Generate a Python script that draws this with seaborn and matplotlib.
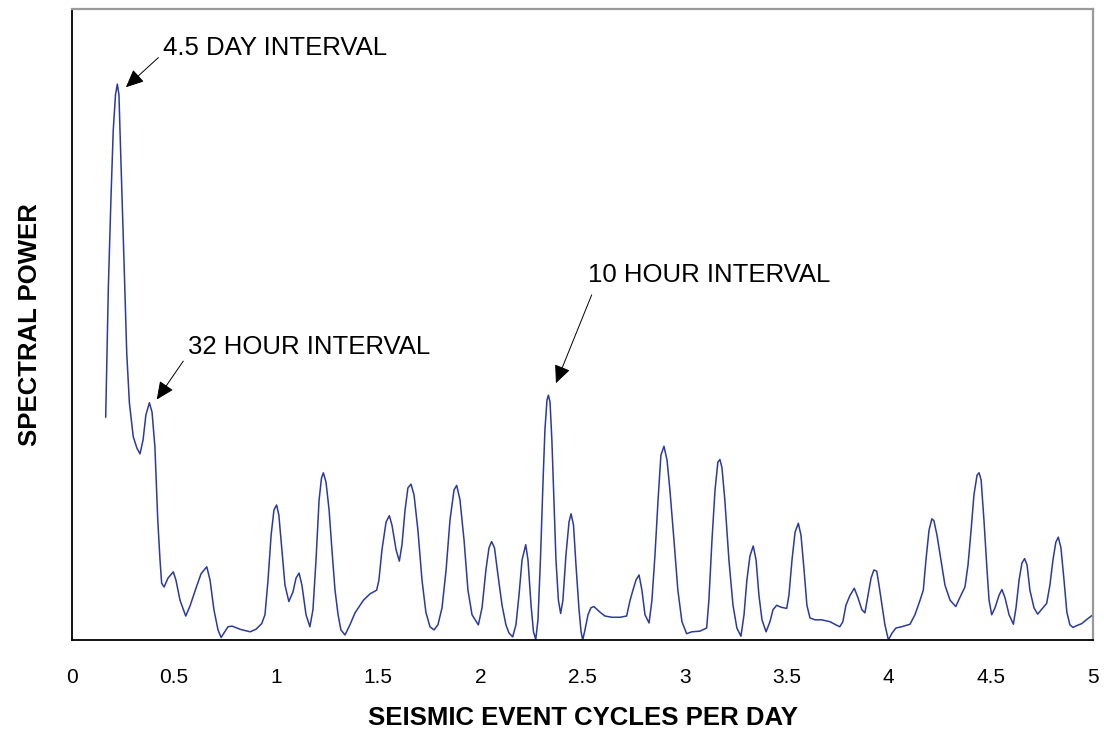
import numpy as np
import pandas as pd
import matplotlib
matplotlib.use("Agg")
import matplotlib.pyplot as plt
import seaborn as sns

# Spectral power of seismic event rate versus frequency (cycles per day)
cycles_per_day = [
    0.165, 0.178, 0.191, 0.202, 0.213, 0.222, 0.230, 0.235, 0.246, 0.256,
    0.268, 0.281, 0.300, 0.318, 0.333, 0.348, 0.362, 0.379, 0.392, 0.406,
    0.420, 0.431, 0.439, 0.451, 0.470, 0.496, 0.509, 0.529, 0.557, 0.578,
    0.607, 0.632, 0.660, 0.676, 0.695, 0.715, 0.730, 0.744, 0.764, 0.784,
    0.823, 0.872, 0.901, 0.929, 0.945, 0.960, 0.975, 0.989, 1.002, 1.013,
    1.028, 1.043, 1.062, 1.082, 1.097, 1.112, 1.126, 1.146, 1.165, 1.180,
    1.195, 1.210, 1.222, 1.231, 1.244, 1.259, 1.273, 1.288, 1.303, 1.317,
    1.337, 1.361, 1.386, 1.427, 1.459, 1.492, 1.503, 1.518, 1.538, 1.554,
    1.567, 1.587, 1.603, 1.616, 1.631, 1.645, 1.660, 1.675, 1.694, 1.714,
    1.733, 1.753, 1.773, 1.792, 1.812, 1.832, 1.851, 1.871, 1.884, 1.900,
    1.920, 1.939, 1.959, 1.990, 2.008, 2.027, 2.042, 2.055, 2.069, 2.086,
    2.106, 2.125, 2.140, 2.158, 2.174, 2.189, 2.204, 2.222, 2.233, 2.248,
    2.260, 2.271, 2.282, 2.294, 2.307, 2.316, 2.326, 2.333, 2.341, 2.350,
    2.360, 2.370, 2.382, 2.393, 2.404, 2.419, 2.434, 2.444, 2.456, 2.468,
    2.483, 2.493, 2.501, 2.512, 2.527, 2.541, 2.556, 2.586, 2.610, 2.644,
    2.684, 2.716, 2.733, 2.747, 2.762, 2.777, 2.791, 2.806, 2.826, 2.840,
    2.855, 2.870, 2.884, 2.899, 2.914, 2.928, 2.948, 2.967, 2.987, 3.010,
    3.036, 3.075, 3.108, 3.119, 3.134, 3.149, 3.163, 3.173, 3.183, 3.197,
    3.217, 3.237, 3.256, 3.276, 3.291, 3.305, 3.320, 3.336, 3.350, 3.364,
    3.379, 3.399, 3.418, 3.433, 3.451, 3.472, 3.500, 3.511, 3.526, 3.541,
    3.557, 3.570, 3.585, 3.599, 3.614, 3.638, 3.671, 3.712, 3.741, 3.760,
    3.775, 3.790, 3.809, 3.831, 3.849, 3.868, 3.883, 3.898, 3.913, 3.927,
    3.941, 3.952, 3.967, 3.981, 3.998, 4.016, 4.035, 4.063, 4.104, 4.128,
    4.153, 4.169, 4.182, 4.197, 4.211, 4.221, 4.236, 4.255, 4.275, 4.300,
    4.328, 4.349, 4.373, 4.388, 4.403, 4.417, 4.432, 4.442, 4.452, 4.466,
    4.481, 4.491, 4.504, 4.520, 4.540, 4.554, 4.569, 4.589, 4.610, 4.623,
    4.638, 4.652, 4.665, 4.677, 4.691, 4.711, 4.729, 4.750, 4.773, 4.789,
    4.804, 4.818, 4.830, 4.843, 4.858, 4.872, 4.887, 4.902, 4.922, 4.945,
    4.971, 5.000,
]
spectral_power = [
    35.3, 55.9, 70.2, 80.8, 86.4, 88.1, 86.4, 80.8, 69.3, 58.6,
    45.5, 37.6, 32.2, 30.4, 29.5, 31.7, 35.7, 37.6, 36.1, 30.6,
    19.0, 12.7, 9.0, 8.4, 9.8, 10.8, 9.5, 6.3, 3.8, 5.4,
    8.2, 10.5, 11.6, 9.5, 4.8, 1.6, 0.4, 1.1, 2.1, 2.2,
    1.7, 1.3, 1.7, 2.6, 4.0, 9.5, 16.6, 20.6, 21.4, 19.8,
    14.3, 8.7, 6.1, 7.6, 9.8, 10.6, 8.7, 4.0, 2.1, 4.8,
    12.7, 22.2, 25.7, 26.5, 25.0, 20.6, 14.3, 7.9, 4.0, 1.6,
    0.8, 2.4, 4.3, 6.3, 7.3, 7.9, 9.5, 14.3, 18.7, 19.7,
    18.2, 14.3, 12.5, 15.1, 20.6, 24.1, 24.7, 23.0, 17.4, 9.5,
    4.4, 2.1, 1.6, 2.4, 5.1, 11.1, 19.0, 23.8, 24.5, 22.2,
    15.8, 7.9, 4.0, 2.4, 5.1, 11.1, 14.6, 15.6, 14.6, 10.3,
    5.5, 2.4, 1.1, 0.5, 2.4, 7.1, 12.7, 15.1, 12.7, 5.5,
    1.3, 0.1, 3.2, 12.7, 25.4, 33.3, 38.0, 38.8, 37.7, 31.7,
    22.2, 12.7, 6.3, 4.2, 6.3, 13.5, 18.7, 20.0, 18.2, 11.9,
    4.8, 1.3, 0.0, 1.6, 4.0, 5.1, 5.3, 4.4, 3.8, 3.6,
    3.6, 3.8, 6.3, 7.9, 9.5, 10.3, 7.9, 4.0, 2.7, 6.3,
    13.5, 22.2, 29.3, 30.7, 28.5, 23.8, 15.8, 7.9, 2.9, 1.0,
    1.3, 1.4, 1.9, 6.3, 15.8, 23.8, 28.2, 28.6, 27.3, 22.2,
    12.7, 5.5, 1.9, 0.6, 4.0, 9.5, 13.3, 14.9, 12.7, 7.1,
    3.2, 1.3, 2.9, 4.8, 5.5, 5.2, 5.0, 7.1, 12.7, 17.1,
    18.5, 16.6, 11.1, 5.5, 3.5, 3.2, 3.2, 2.9, 2.4, 2.1,
    2.9, 5.5, 7.0, 8.2, 6.7, 4.8, 4.3, 7.1, 9.8, 11.1,
    10.9, 8.7, 5.5, 2.4, 0.0, 1.1, 1.9, 2.1, 2.5, 4.0,
    6.3, 7.9, 12.7, 17.4, 19.2, 18.9, 16.6, 12.7, 8.7, 6.3,
    5.3, 6.8, 8.4, 11.9, 17.4, 23.0, 26.1, 26.5, 25.4, 19.0,
    11.1, 6.3, 4.0, 5.1, 7.1, 8.0, 6.7, 4.0, 2.5, 5.1,
    9.5, 12.2, 12.9, 11.9, 7.9, 5.1, 4.1, 4.9, 5.8, 8.7,
    12.7, 15.5, 16.3, 14.6, 9.5, 4.4, 2.4, 2.0, 2.3, 2.6,
    3.3, 4.0,
]

# Labelled peaks: text, text anchor (x, y), arrow tail, arrow tip
peak_labels = ["4.5 DAY INTERVAL", "32 HOUR INTERVAL", "10 HOUR INTERVAL"]
label_xy = [(0.446, 92.7), (0.570, 45.3), (2.528, 56.7)]
arrow_tail = [(0.423, 92.3), (0.545, 44.2), (2.545, 54.7)]
arrow_tip = [(0.264, 87.6), (0.415, 38.1), (2.370, 40.7)]

x_ticks = [0, 0.5, 1, 1.5, 2, 2.5, 3, 3.5, 4, 4.5, 5]
x_tick_labels = ["0", "0.5", "1", "1.5", "2", "2.5", "3", "3.5", "4", "4.5", "5"]

sns.set_style("white")
plt.rcParams["font.family"] = ["Liberation Sans", "DejaVu Sans"]
plt.rcParams["text.color"] = "black"
plt.rcParams["axes.labelcolor"] = "black"

df = pd.DataFrame({"freq": cycles_per_day, "power": spectral_power})

fig = plt.figure(figsize=(11.04, 7.36), dpi=100)
ax = fig.add_axes([72 / 1104, 96 / 736, 1021 / 1104, 631 / 736])

sns.lineplot(data=df, x="freq", y="power", ax=ax, color="#2B3A9C",
             linewidth=1.1, estimator=None)

ax.set_xlim(0, 5)
ax.set_ylim(0, 100)
ax.set_xticks(x_ticks)
ax.set_xticklabels(x_tick_labels)
ax.set_yticks([0, 100])
ax.set_yticklabels(["", ""])

ax.tick_params(axis="x", direction="out", length=6, width=1.2, color="black",
               labelsize=15, pad=14, labelcolor="black")
ax.tick_params(axis="y", direction="out", length=5, width=1.2, color="black")

for side in ("left", "bottom"):
    ax.spines[side].set_color("black")
    ax.spines[side].set_linewidth(1.3)
for side in ("top", "right"):
    ax.spines[side].set_color("#9a9a9a")
    ax.spines[side].set_linewidth(1.6)

ax.set_xlabel("SEISMIC EVENT CYCLES PER DAY", fontsize=18.5, fontweight="bold",
              va="center", color="black")
ax.xaxis.set_label_coords(0.5, -(718 - 640) / 631)
ax.set_ylabel("SPECTRAL POWER", fontsize=18.5, fontweight="bold",
              va="center", ha="center", color="black")
ax.yaxis.set_label_coords(-(72 - 30) / 1021, 0.5)

for text, pos, tail, tip in zip(peak_labels, label_xy, arrow_tail, arrow_tip):
    ax.text(pos[0], pos[1], text, fontsize=18.5, ha="left", va="baseline",
            color="black")
    ax.annotate("", xy=tip, xytext=tail,
                arrowprops=dict(arrowstyle="-|>,head_length=0.55,head_width=0.25",
                                mutation_scale=20, color="black", lw=0.7,
                                shrinkA=0, shrinkB=0))

fig.savefig("out.png", dpi=100)
